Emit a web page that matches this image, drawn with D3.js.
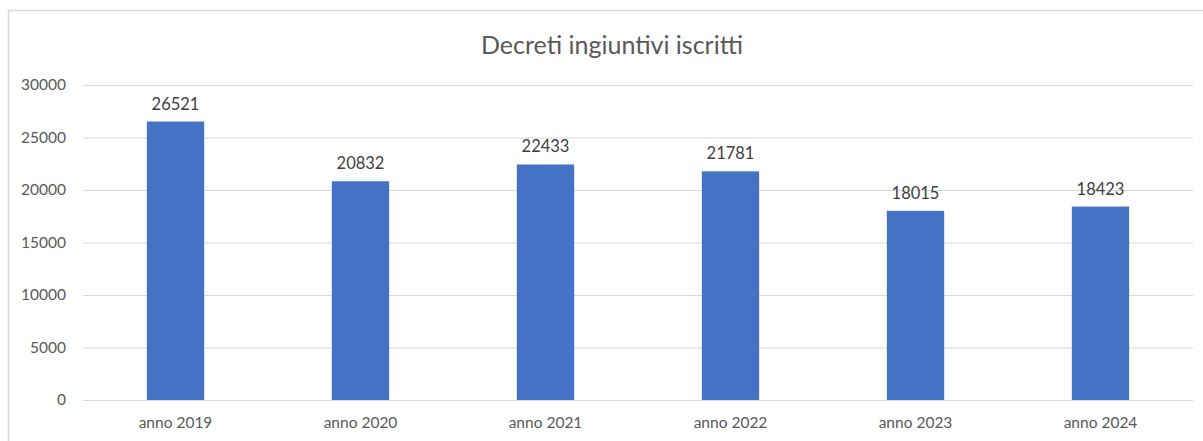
<!DOCTYPE html>
<html><head><meta charset="utf-8">
<script src="https://cdn.jsdelivr.net/npm/d3@7"></script>
<style>html,body{margin:0;padding:0;background:#fff;}svg{display:block;}</style>
</head><body>
<svg id="c" width="1203" height="441"></svg>
<script>
const categories = ["anno 2019","anno 2020","anno 2021","anno 2022","anno 2023","anno 2024"];
const values = [26521, 20832, 22433, 21781, 18015, 18423];
const yTicks = [0, 5000, 10000, 15000, 20000, 25000, 30000];
const title = "Decreti ingiuntivi iscritti";

const svg = d3.select("#c");
const font = "Lato, 'Open Sans', sans-serif";
const txt = "#595959";
const W = 1203, H = 441;
const m = {left: 83, right: 10, top: 85, bottom: 41};

svg.append("rect").attr("x", 8.5).attr("y", 10.5).attr("width", 1300).attr("height", 500)
  .attr("fill", "#fff").attr("stroke", "#d9d9d9").attr("stroke-width", 1.5);

const x = d3.scaleBand().domain(categories).range([m.left, W - m.right]).paddingInner(0.69).paddingOuter(0.345);
const y = d3.scaleLinear().domain([0, 30000]).range([H - m.bottom, m.top]);

const gy = svg.append("g").attr("transform", `translate(${m.left},0)`)
  .call(d3.axisLeft(y).tickValues(yTicks).tickSize(-(W - m.right - m.left)).tickPadding(17).tickFormat(d3.format("d")));
gy.select(".domain").remove();
gy.selectAll(".tick line").attr("stroke", "#d9d9d9").attr("stroke-width", 1);
gy.selectAll(".tick text").attr("fill", txt).style("font-family", font).style("font-size", "15.5px");

svg.append("g").selectAll("rect").data(values).join("rect")
  .attr("x", (d, i) => x(categories[i])).attr("width", x.bandwidth())
  .attr("y", d => y(d)).attr("height", d => y(0) - y(d))
  .attr("fill", "#4472c4");

svg.append("g").selectAll("text").data(values).join("text")
  .attr("x", (d, i) => x(categories[i]) + x.bandwidth() / 2).attr("y", d => y(d) - 12)
  .attr("text-anchor", "middle").attr("fill", "#404040")
  .style("font-family", font).style("font-size", "16.5px").text(d => d);

const gx = svg.append("g").attr("transform", `translate(0,${y(0)})`)
  .call(d3.axisBottom(x).tickSize(0).tickPadding(17));
gx.select(".domain").remove();
gx.selectAll(".tick text").attr("fill", txt).style("font-family", font).style("font-size", "15.5px");

svg.append("text").attr("x", 612).attr("y", 54).attr("text-anchor", "middle")
  .attr("fill", txt).style("font-family", font).style("font-size", "25px").text(title);
</script>
</body></html>
